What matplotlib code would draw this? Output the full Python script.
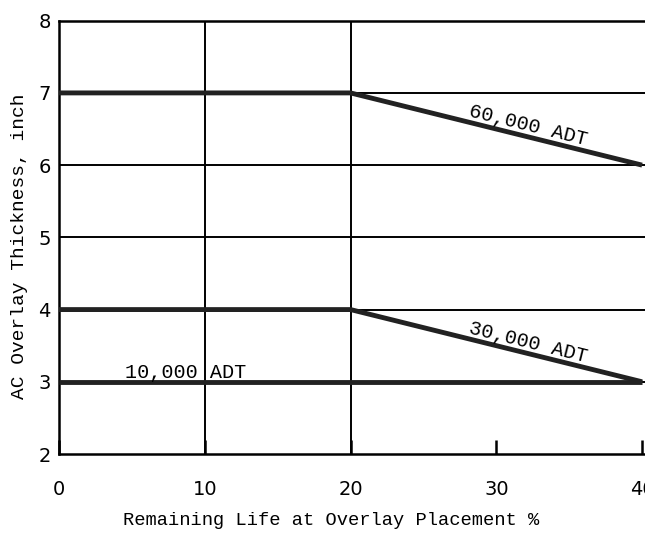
import matplotlib
matplotlib.use("Agg")
import matplotlib.pyplot as plt

# remaining life (%) break points and overlay thickness (inch)
life = [0, 20, 40]
adt_60000 = [7, 7, 6]
adt_30000 = [4, 4, 3]
adt_10000 = [3, 3, 3]

x_ticks = [0, 10, 20, 30, 40]
y_ticks = [2, 3, 4, 5, 6, 7, 8]

mono = "Liberation Mono"

fig = plt.figure(figsize=(6.45, 5.33), dpi=100)
ax = fig.add_axes([59 / 645, 1 - 454 / 533, 1 - 59 / 645, (454 - 20.7) / 533])
ax.set_xlim(0, 40.2)
ax.set_ylim(2, 8)

# horizontal grid at every inch, vertical grid at 10 and 20 only
for y in y_ticks[1:]:
    ax.axhline(y, color="black", lw=1.4, zorder=1)
for x in [10, 20]:
    ax.axvline(x, color="black", lw=1.4, zorder=1)

ax.plot(life, adt_60000, color="#222222", lw=3.5, solid_capstyle="butt", zorder=3)
ax.plot(life, adt_30000, color="#222222", lw=3.5, solid_capstyle="butt", zorder=3)
ax.plot(life, adt_10000, color="#222222", lw=3.5, solid_capstyle="butt", zorder=3)

ax.text(32.0, 6.42, "60,000 ADT", fontsize=14.5, family=mono, rotation=-2.86,
        transform_rotates_text=True, rotation_mode="anchor", ha="center", va="bottom")
ax.text(32.0, 3.42, "30,000 ADT", fontsize=14.5, family=mono, rotation=-2.86,
        transform_rotates_text=True, rotation_mode="anchor", ha="center", va="bottom")
ax.text(4.5, 3.0, "10,000 ADT", fontsize=14.5, family=mono, ha="left", va="bottom")

ax.spines["right"].set_visible(False)
for s in ["left", "bottom", "top"]:
    ax.spines[s].set_linewidth(1.8)

ax.set_xticks(x_ticks)
ax.set_yticks(y_ticks)
ax.tick_params(axis="x", direction="in", length=10, width=1.8, labelsize=14, pad=19)
ax.tick_params(axis="y", length=0, labelsize=14, pad=6)

ax.set_xlabel("Remaining Life at Overlay Placement %", fontsize=13.5, family=mono)
ax.xaxis.set_label_coords(0.465, -0.135)
ax.set_ylabel("AC Overlay Thickness, inch", fontsize=14, family=mono)
ax.yaxis.set_label_coords(-0.053, 0.48)

fig.savefig("out.png", dpi=100)
